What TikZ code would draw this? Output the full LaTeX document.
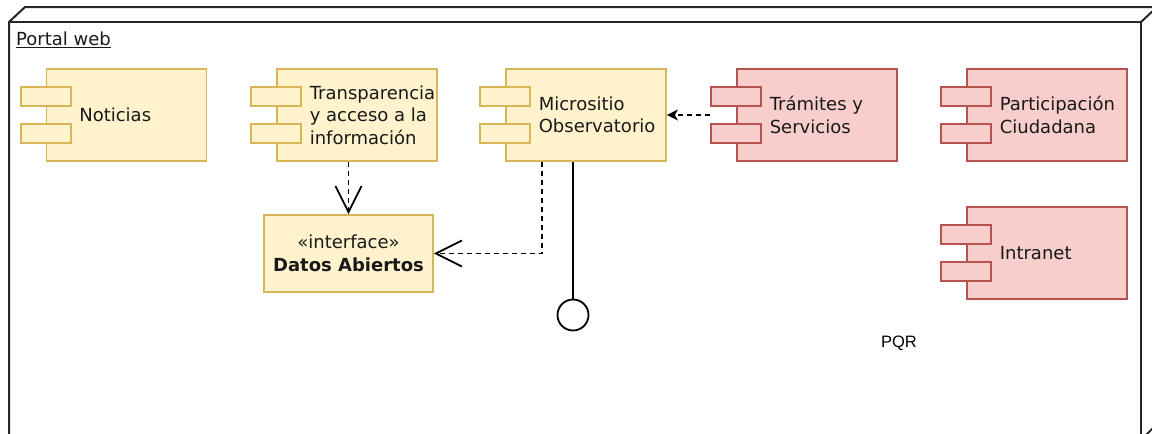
\documentclass[tikz,border=0pt]{standalone}
\usepackage{fontspec}
\setmainfont{DejaVu Sans}
\newfontfamily\pqrfont{Liberation Sans}
\usetikzlibrary{arrows.meta,positioning}
\definecolor{ylwfill}{HTML}{FFF2CC}
\definecolor{ylwline}{HTML}{D6B656}
\definecolor{redfill}{HTML}{F8CECC}
\definecolor{redline}{HTML}{B85450}

\begin{document}
\begin{tikzpicture}
	[x=1pt, y=-1pt, inner sep=0pt, font=\fontsize{18}{22.5}\selectfont,
	frame/.style	= {draw=black!85, line width=2pt, line join=miter},
	ylwbody/.style	= {rectangle, draw=ylwline, fill=ylwfill, line width=1.8pt, minimum width=160pt, minimum height=92pt},
	redbody/.style	= {rectangle, draw=redline, fill=redfill, line width=1.8pt, minimum width=160pt, minimum height=92pt},
	ylwtab/.style	= {rectangle, draw=ylwline, fill=ylwfill, line width=1.8pt, minimum width=50pt, minimum height=19pt},
	redtab/.style	= {rectangle, draw=redline, fill=redfill, line width=1.8pt, minimum width=50pt, minimum height=19pt},
	comptext/.style	= {anchor=west, align=left, xshift=33.5pt, text=black!90},
	iface/.style	= {rectangle, draw=ylwline, fill=ylwfill, line width=1.8pt, minimum width=169pt, minimum height=77pt, align=center, text=black!90},
	realize/.style	= {-{Straight Barb[length=26pt, width=26pt, line width=1.8pt]}, line width=1.8pt, dash pattern=on 5pt off 4pt},
	depend/.style	= {-{Stealth[length=11pt, width=11pt, inset=3pt]}, line width=1.8pt, dash pattern=on 5pt off 4pt},
	lolli/.style	= {line width=1.8pt}]
	
	\useasboundingbox (0, 0) rectangle (1152, 434);
	\clip (0, 0) rectangle (1152, 434);
	
	\draw [frame] (9, 440) -- (9, 22) -- (25, 7) -- (1157, 7) -- (1157, 424) -- (1141, 440);
	\draw [frame] (9, 22) -- (1141, 22) -- (1141, 440);
	\draw [frame] (1141, 22) -- (1157, 7);
	\node at (16, 40)		[anchor=west, text=black!90]	(portal)	{\underline{Portal web}};
	
	\node at (126.5, 115)	[ylwbody]	(noti)	{};
	\node at (357, 115)		[ylwbody]	(trans)	{};
	\node at (586, 115)		[ylwbody]	(micro)	{};
	\node at (817, 115)		[redbody]	(tram)	{};
	\node at (1047, 115)	[redbody]	(parti)	{};
	\node at (1047, 253)	[redbody]	(intra)	{};
	
	\node at ([yshift=18.5pt]noti.west)		[ylwtab]	(noti1)		{};
	\node at ([yshift=-18.5pt]noti.west)	[ylwtab]	(noti2)		{};
	\node at ([yshift=18.5pt]trans.west)	[ylwtab]	(trans1)	{};
	\node at ([yshift=-18.5pt]trans.west)	[ylwtab]	(trans2)	{};
	\node at ([yshift=18.5pt]micro.west)	[ylwtab]	(micro1)	{};
	\node at ([yshift=-18.5pt]micro.west)	[ylwtab]	(micro2)	{};
	\node at ([yshift=18.5pt]tram.west)		[redtab]	(tram1)		{};
	\node at ([yshift=-18.5pt]tram.west)	[redtab]	(tram2)		{};
	\node at ([yshift=18.5pt]parti.west)	[redtab]	(parti1)	{};
	\node at ([yshift=-18.5pt]parti.west)	[redtab]	(parti2)	{};
	\node at ([yshift=18.5pt]intra.west)	[redtab]	(intra1)	{};
	\node at ([yshift=-18.5pt]intra.west)	[redtab]	(intra2)	{};
	
	\node at (noti.west)	[comptext]	(notitxt)	{Noticias};
	\node at (trans.west)	[comptext]	(transtxt)	{Transparencia\\y acceso a la\\información};
	\node at (micro.west)	[comptext]	(microtxt)	{Micrositio\\Observatorio};
	\node at (tram.west)	[comptext]	(tramtxt)	{Trámites y\\Servicios};
	\node at (parti.west)	[comptext]	(partitxt)	{Participación\\Ciudadana};
	\node at (intra.west)	[comptext]	(intratxt)	{Intranet};
	
	\node at (348.5, 253.5)	[iface]		(datos)	{«interface»\\\textbf{Datos Abiertos}};
	\node at (573, 315)		[circle, draw, line width=1.8pt, minimum size=31pt]	(ball)	{};
	\node at (899, 343)		[font=\pqrfont\fontsize{16.5}{19}\selectfont]	(pqr)	{PQR};
	
	\draw [realize] (trans.south -| datos.north) -- (datos.north);
	\draw [realize] ([xshift=-44pt]micro.south) |- (datos.east);
	\draw [depend] (tram1.west |- tram.west) -- (micro.east);
	\draw [lolli] (micro.south -| ball.north) -- (ball.north);
\end{tikzpicture}
\end{document}
